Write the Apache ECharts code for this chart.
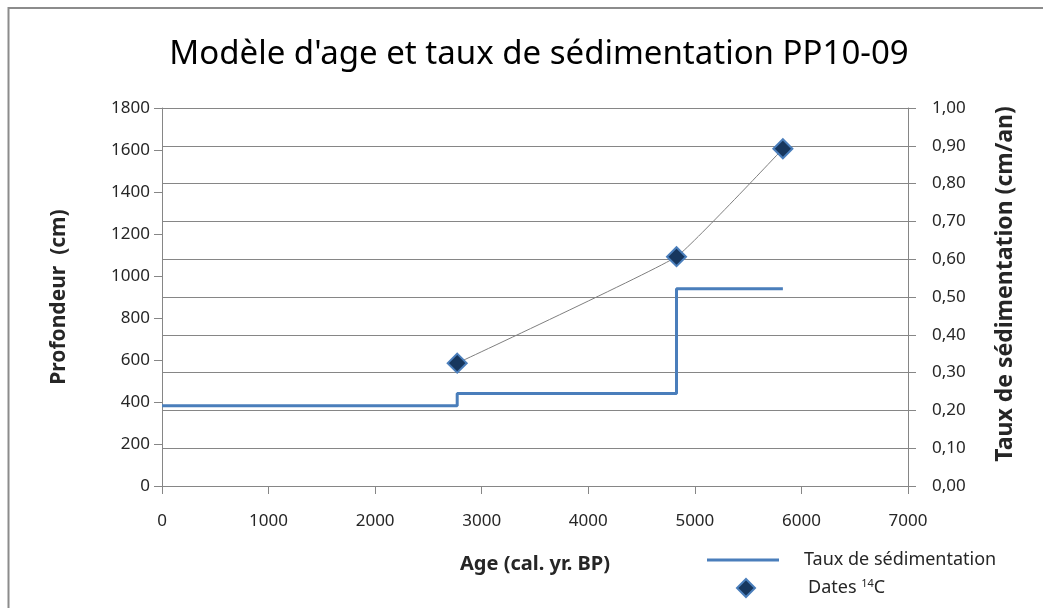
<!DOCTYPE html>
<html>
<head>
<meta charset="utf-8">
<script src="https://cdn.jsdelivr.net/npm/echarts@6/dist/echarts.min.js"></script>
<style>
  html, body { margin: 0; padding: 0; background: #fff; }
  #chart { width: 1043px; height: 608px; }
</style>
</head>
<body>
<div id="chart"></div>
<script>
// Radiocarbon dates: calibrated age (yr BP) and depth (cm)
const dateAges = [2770, 4828, 5826];
const dateDepths = [585, 1092, 1606];

// Sedimentation rate (cm/yr), stepped between the dated levels
const rateAges = [0, 2770, 4828, 5826];
const rateValues = [0.212, 0.245, 0.522, 0.522];

const depthTicks = [0, 200, 400, 600, 800, 1000, 1200, 1400, 1600, 1800];
const ageTicks = [0, 1000, 2000, 3000, 4000, 5000, 6000, 7000];
const rateTicks = [0, 0.1, 0.2, 0.3, 0.4, 0.5, 0.6, 0.7, 0.8, 0.9, 1.0];

const FONT = 'Noto Sans';
const TEXT = '#262626';
const AXIS = '#868686';

const chart = echarts.init(document.getElementById('chart'), null, { renderer: 'canvas' });

const datePoints = dateAges.map((a, i) => [a, dateDepths[i]]);
const ratePoints = rateAges.map((a, i) => [a, rateValues[i]]);

chart.setOption({
  animation: false,
  backgroundColor: '#fff',
  textStyle: { fontFamily: FONT },
  graphic: [{
    type: 'rect',
    shape: { x: 8.5, y: 8, width: 1100, height: 700 },
    style: { fill: 'none', stroke: '#8c8c8c', lineWidth: 2 },
    silent: true
  }],
  title: {
    text: "Modèle d'age et taux de sédimentation PP10-09",
    left: 534,
    textAlign: 'center',
    top: 33,
    textStyle: { fontFamily: FONT, fontSize: 33, fontWeight: 'normal', color: '#000' }
  },
  legend: [{
    data: ['Taux de sédimentation'],
    left: 702, top: 546,
    orient: 'vertical',
    itemWidth: 72, itemHeight: 20,
    icon: 'path://M0,9 L72,9 L72,12 L0,12 Z',
    textStyle: { fontFamily: FONT, fontSize: 18, color: TEXT, padding: [0, 0, 0, 20] }
  }, {
    data: ['Dates'],
    left: 731, top: 573,
    orient: 'vertical',
    itemWidth: 18, itemHeight: 18,
    icon: 'diamond',
    formatter: () => 'Dates {sup|14}C',
    textStyle: {
      fontFamily: FONT, fontSize: 18, color: TEXT, padding: [0, 0, 0, 48],
      rich: { sup: { fontSize: 11, verticalAlign: 'top', padding: [0, 0, 9, 0], fontFamily: FONT, color: TEXT } }
    }
  }],
  grid: { left: 162, right: 135, top: 108, bottom: 122, containLabel: false },
  xAxis: {
    type: 'value',
    min: 0, max: 7000, interval: 1000,
    name: 'Age (cal. yr. BP)',
    nameLocation: 'middle',
    nameGap: 68,
    nameTextStyle: { fontFamily: FONT, fontSize: 20, fontWeight: 'bold', color: TEXT },
    axisLine: { show: true, onZero: false, lineStyle: { color: AXIS, width: 1 } },
    axisTick: { show: true, inside: false, length: 8, lineStyle: { color: AXIS } },
    axisLabel: { fontFamily: FONT, fontSize: 17, color: TEXT, margin: 27,
      formatter: v => ageTicks.includes(v) ? String(v) : '' },
    splitLine: { show: false }
  },
  yAxis: [{
    type: 'value',
    min: 0, max: 1800, interval: 200,
    position: 'left',
    name: 'Profondeur  (cm)',
    nameLocation: 'middle',
    nameGap: 92,
    nameRotate: 90,
    nameTextStyle: { fontFamily: FONT, fontSize: 21, fontWeight: 'bold', color: TEXT },
    axisLine: { show: true, lineStyle: { color: AXIS, width: 1 } },
    axisTick: { show: true, inside: false, length: 8, lineStyle: { color: AXIS } },
    axisLabel: { fontFamily: FONT, fontSize: 17, color: TEXT, margin: 12,
      formatter: v => depthTicks.includes(v) ? String(v) : '' },
    splitLine: { show: false }
  }, {
    type: 'value',
    min: 0, max: 1, interval: 0.1,
    position: 'right',
    name: 'Taux de sédimentation (cm/an)',
    nameLocation: 'middle',
    nameGap: 86,
    nameRotate: 90,
    nameTextStyle: { fontFamily: FONT, fontSize: 23, fontWeight: 'bold', color: TEXT, padding: [0, 0, 0, 26] },
    axisLine: { show: true, lineStyle: { color: AXIS, width: 1 } },
    axisTick: { show: true, inside: false, length: 8, lineStyle: { color: AXIS } },
    axisLabel: { fontFamily: FONT, fontSize: 17, color: TEXT, margin: 24,
      formatter: v => {
        const t = rateTicks.find(r => Math.abs(r - v) < 1e-9);
        return t === undefined ? '' : t.toFixed(2).replace('.', ',');
      } },
    splitLine: { show: true, lineStyle: { color: AXIS, width: 1 } }
  }],
  series: [{
    name: 'Taux de sédimentation',
    type: 'line',
    yAxisIndex: 1,
    step: 'end',
    data: ratePoints,
    showSymbol: false,
    symbol: 'none',
    lineStyle: { color: '#4a7ebb', width: 3 },
    itemStyle: { color: '#4a7ebb' },
    z: 3
  }, {
    name: 'Dates',
    type: 'line',
    yAxisIndex: 0,
    data: datePoints,
    smooth: 0.1,
    symbol: 'diamond',
    symbolSize: 19,
    lineStyle: { color: '#7f7f7f', width: 1 },
    itemStyle: { color: '#17375e', borderColor: '#4a7ebb', borderWidth: 2 },
    z: 4
  }]
});
</script>
</body>
</html>
